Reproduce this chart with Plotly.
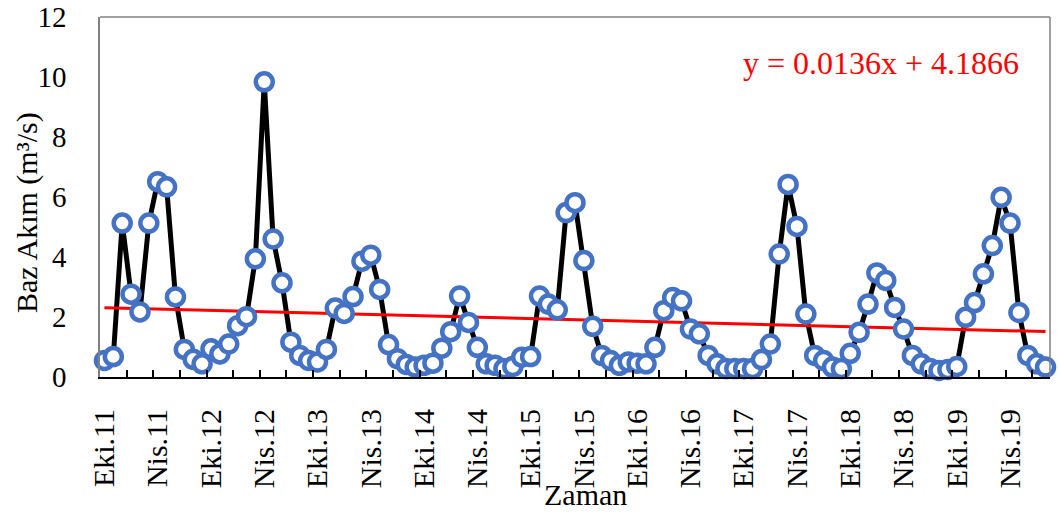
import numpy as np
import plotly.graph_objects as go

# Monthly base flow (m³/s), October 2011 onward
baz_akim = [
    0.55, 0.68, 5.13, 2.76, 2.17, 5.13, 6.51, 6.34, 2.67, 0.92, 0.59, 0.44,
    0.94, 0.77, 1.10, 1.71, 2.01, 3.94, 9.84, 4.60, 3.14, 1.16, 0.72, 0.55,
    0.50, 0.92, 2.30, 2.12, 2.68, 3.86, 4.06, 2.92, 1.08, 0.61, 0.42, 0.33,
    0.39, 0.46, 0.96, 1.51, 2.70, 1.82, 0.99, 0.44, 0.39, 0.28, 0.35, 0.66,
    0.68, 2.70, 2.43, 2.24, 5.48, 5.81, 3.88, 1.69, 0.72, 0.55, 0.39, 0.50,
    0.46, 0.44, 0.99, 2.21, 2.65, 2.54, 1.60, 1.44, 0.72, 0.44, 0.28, 0.28,
    0.28, 0.28, 0.58, 1.10, 4.10, 6.42, 5.02, 2.10, 0.72, 0.55, 0.33, 0.28,
    0.79, 1.49, 2.43, 3.47, 3.22, 2.32, 1.60, 0.72, 0.44, 0.28, 0.22, 0.25,
    0.35, 1.99, 2.48, 3.44, 4.38, 5.99, 5.13, 2.15, 0.72, 0.44, 0.33,
]

# Category labels shown every six months
tick_labels = [
    "Eki.11", "Nis.11", "Eki.12", "Nis.12", "Eki.13", "Nis.13",
    "Eki.14", "Nis.14", "Eki.15", "Nis.15", "Eki.16", "Nis.16",
    "Eki.17", "Nis.17", "Eki.18", "Nis.18", "Eki.19", "Nis.19",
]
label_step = 6
tick_mark_step = 3

equation_text = "y = 0.0136x + 4.1866"

months = list(range(len(baz_akim)))
label_positions = [i * label_step for i in range(len(tick_labels))]
tick_mark_positions = list(np.arange(tick_mark_step - 0.5, len(months) - 0.5, tick_mark_step))

# Linear trend fitted to the series
slope, intercept = np.polyfit(months, baz_akim, 1)
trend = [intercept + slope * m for m in months]

W, H = 1059, 512
ML, MR, MT, MB = 100, 9, 17, 135
PW, PH = W - ML - MR, H - MT - MB


def px_to_paper(px, py):
    return (px - ML) / PW, (H - MB - py) / PH


FONT = "Liberation Serif"
FS = 30

fig = go.Figure()
fig.add_trace(go.Scatter(
    x=months, y=baz_akim, mode="lines",
    line=dict(color="black", width=5), hoverinfo="skip",
))
fig.add_trace(go.Scatter(
    x=months, y=trend, mode="lines",
    line=dict(color="#FF0000", width=3), hoverinfo="skip",
))
fig.add_trace(go.Scatter(
    x=months, y=baz_akim, mode="markers", cliponaxis=False,
    marker=dict(symbol="circle", size=17, color="white",
                line=dict(color="#4472C4", width=4.5)),
))

# Plot-area frame (top and right edges)
fig.add_shape(type="line", xref="paper", yref="paper", x0=0, x1=1, y0=1, y1=1,
              line=dict(color="#808080", width=1.5), layer="above")
fig.add_shape(type="line", xref="paper", yref="paper", x0=1, x1=1, y0=0, y1=1,
              line=dict(color="#808080", width=1.5), layer="above")

ex, ey = px_to_paper(881, 63)
fig.add_annotation(text=equation_text, x=ex, y=ey, xref="paper", yref="paper",
                   xanchor="center", yanchor="middle", showarrow=False,
                   font=dict(family=FONT, size=32, color="#FF0000"))
tx, ty = px_to_paper(27, 213)
fig.add_annotation(text="Baz Akım (m³/s)", x=tx, y=ty, xref="paper", yref="paper",
                   xanchor="center", yanchor="middle", textangle=-90, showarrow=False,
                   font=dict(family=FONT, size=FS, color="black"))
zx, zy = px_to_paper(585, 494)
fig.add_annotation(text="Zaman", x=zx, y=zy, xref="paper", yref="paper",
                   xanchor="center", yanchor="middle", showarrow=False,
                   font=dict(family=FONT, size=FS, color="black"))

fig.update_layout(
    width=W, height=H,
    margin=dict(l=ML, r=MR, t=MT, b=MB, autoexpand=False),
    paper_bgcolor="white", plot_bgcolor="white",
    showlegend=False,
    font=dict(family=FONT, size=FS, color="black"),
    xaxis=dict(
        range=[-0.5, len(months) - 0.5], automargin=False,
        tickvals=label_positions, ticktext=tick_labels, tickangle=-90,
        ticks="", ticklabelstandoff=18,
        showline=True, linecolor="black", linewidth=2,
        showgrid=False, zeroline=False,
        minor=dict(tickvals=tick_mark_positions, ticks="inside", ticklen=7,
                   tickwidth=2, tickcolor="black", showgrid=False),
    ),
    yaxis=dict(
        range=[0, 12], tickvals=list(range(0, 13, 2)), automargin=False,
        ticks="", ticklabelstandoff=26, ticklabeloverflow="allow",
        tickfont=dict(family=FONT, size=29, color="black"),
        showline=True, linecolor="#808080", linewidth=1.5,
        showgrid=False, zeroline=False,
    ),
)

fig.write_html("out.html")
